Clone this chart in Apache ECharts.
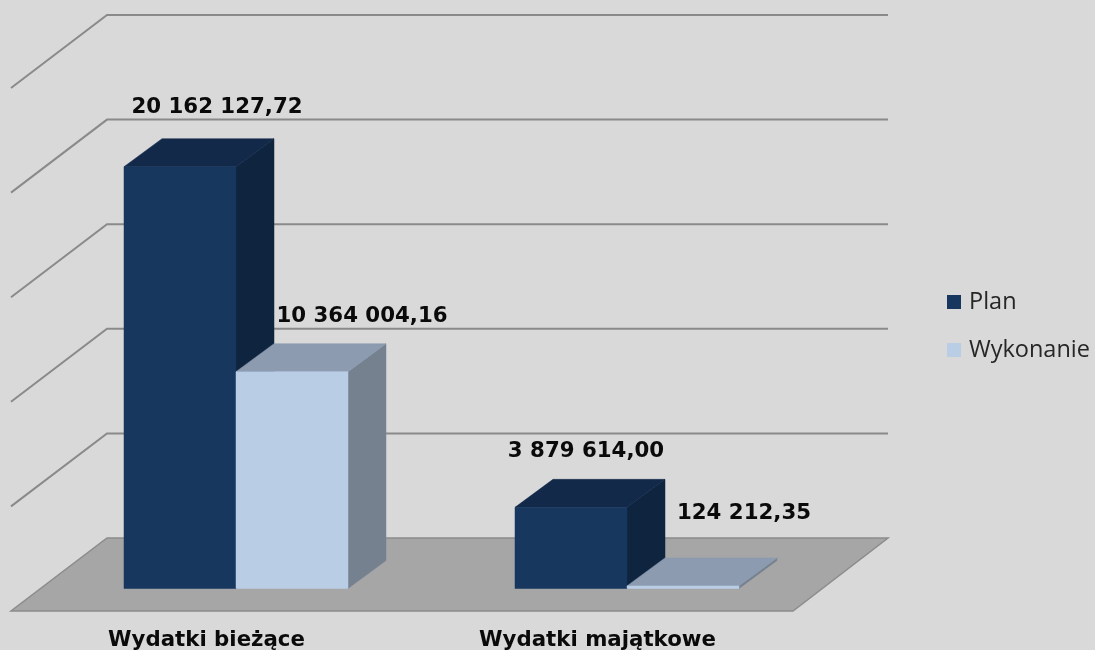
<!DOCTYPE html>
<html>
<head>
<meta charset="utf-8">
<style>html,body{margin:0;padding:0;background:#d9d9d9}#c{width:1095px;height:650px}</style>
<script src="https://cdn.jsdelivr.net/npm/echarts@6/dist/echarts.min.js"></script>
</head>
<body>
<div id="c"></div>
<script>
const categories = ['Wydatki bieżące', 'Wydatki majątkowe'];
const planValues = [20162127.72, 3879614.00];
const wykonanieValues = [10364004.16, 124212.35];
const planLabels = ['20 162 127,72', '3 879 614,00'];
const wykonanieLabels = ['10 364 004,16', '124 212,35'];
const wallTicks = [5000000, 10000000, 15000000, 20000000, 25000000];

// depth projection of the 3D look
const DX = 38, DY = -28, SHIFT_X = 29.5, SHIFT_Y = -22.5, BAR_W = 112;
const BACK_X = 96, BACK_Y = -73;

const chart = echarts.init(document.getElementById('c'), null, {renderer: 'canvas'});

function box(side, labels, labelOffsets, front, top, right) {
  return function (params, api) {
    const i = api.value(0);
    const base = api.coord([i, 0]);
    const tip = api.coord([i, api.value(1)]);
    const x0 = base[0] + SHIFT_X + (side < 0 ? -BAR_W : 0);
    const x1 = x0 + BAR_W;
    const y0 = base[1] + SHIFT_Y;
    const y1 = tip[1] + SHIFT_Y;
    const poly = (pts, fill) => ({type: 'polygon', shape: {points: pts}, style: {fill: fill, stroke: fill, lineWidth: 0.5}});
    return {
      type: 'group',
      children: [
        poly([[x1, y0], [x1 + DX, y0 + DY], [x1 + DX, y1 + DY], [x1, y1]], right),
        poly([[x0, y1], [x1, y1], [x1 + DX, y1 + DY], [x0 + DX, y1 + DY]], top),
        poly([[x0, y0], [x1, y0], [x1, y1], [x0, y1]], front),
        {
          type: 'text',
          z2: 100,
          style: {
            x: (x0 + x1 + DX) / 2 + labelOffsets[i][0],
            y: y1 + DY + labelOffsets[i][1],
            text: labels[i],
            align: 'center',
            verticalAlign: 'middle',
            fill: '#0a0a0a',
            font: 'bold 21.3px "DejaVu Sans"'
          }
        }
      ]
    };
  };
}

const option = {
  backgroundColor: '#d9d9d9',
  animation: false,
  grid: {left: 11, width: 782, top: 88, height: 523, containLabel: false, outerBoundsMode: 'none'},
  legend: {
    data: ['Plan', 'Wykonanie'],
    orient: 'vertical',
    left: 942,
    top: 285,
    itemWidth: 14,
    itemHeight: 14,
    itemGap: 24,
    icon: 'rect',
    itemStyle: {borderWidth: 0},
    textStyle: {fontFamily: 'Open Sans', fontSize: 23.5, color: '#262626', padding: [0, 0, 0, 3]}
  },
  xAxis: {
    type: 'category',
    data: categories,
    axisLine: {show: false},
    axisTick: {show: false},
    axisLabel: {fontFamily: 'DejaVu Sans', fontWeight: 'bold', fontSize: 21.3, color: '#0a0a0a', margin: 19}
  },
  yAxis: {
    type: 'value',
    min: 0,
    max: 25000000,
    interval: 5000000,
    axisLine: {show: false},
    axisTick: {show: false},
    axisLabel: {show: false},
    splitLine: {show: false}
  },
  series: [
    {
      type: 'custom',
      name: 'floor',
      silent: true,
      data: [[0, 0]],
      encode: {x: 0, y: 1},
      renderItem: function (params, api) {
        const a = api.coord([0, 0]);
        const cs = params.coordSys;
        const L = cs.x, R = cs.x + cs.width, B = a[1];
        return {
          type: 'polygon',
          shape: {points: [[L, B], [R, B], [R + BACK_X - 1, B + BACK_Y], [L + BACK_X, B + BACK_Y]]},
          style: {fill: '#a6a6a6', stroke: '#8c8c8c', lineWidth: 1.5}
        };
      }
    },
    {
      type: 'custom',
      name: 'walls',
      silent: true,
      clip: false,
      data: wallTicks.map((v) => [0, v]),
      encode: {x: 0, y: 1},
      renderItem: function (params, api) {
        const y = api.coord([0, api.value(1)])[1];
        const cs = params.coordSys;
        const L = cs.x, R = cs.x + cs.width;
        return {
          type: 'polyline',
          shape: {points: [[L, y], [L + BACK_X, y + BACK_Y], [R + BACK_X - 1, y + BACK_Y]]},
          style: {fill: null, stroke: '#8a8a8a', lineWidth: 2}
        };
      }
    },
    {
      type: 'custom',
      name: 'Plan',
      itemStyle: {color: '#17375e'},
      data: planValues.map((v, i) => [i, v]),
      encode: {x: 0, y: 1},
      renderItem: box(-1, planLabels, [[18, -31], [-4, -27.5]], '#17375e', '#12294a', '#0f243e')
    },
    {
      type: 'custom',
      name: 'Wykonanie',
      itemStyle: {color: '#b9cde5'},
      data: wykonanieValues.map((v, i) => [i, v]),
      encode: {x: 0, y: 1},
      renderItem: box(1, wykonanieLabels, [[51, -27.5], [42, -44.5]], '#b9cde5', '#8c9bb0', '#768190')
    }
  ]
};
chart.setOption(option);
</script>
</body>
</html>
